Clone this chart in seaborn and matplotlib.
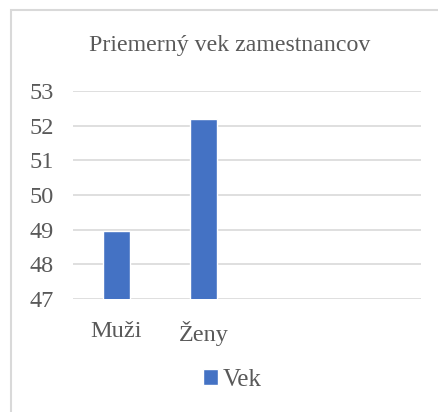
import pandas as pd
import matplotlib.pyplot as plt
import seaborn as sns
from matplotlib.patches import Rectangle

categories = ["Muži", "Ženy"]
vek = [48.95, 52.2]
series_name = "Vek"
title = "Priemerný vek zamestnancov"

sns.set_style("white")
plt.rcParams["font.family"] = ["Liberation Serif", "DejaVu Serif"]

TEXT = "#595959"
GRID = "#D9D9D9"
BAR = "#4472C4"

fig = plt.figure(figsize=(4.39, 4.12), dpi=100)
fig.patches.append(Rectangle((11 / 439, -0.1), 1.2, 1 - 10 / 412 + 0.1, transform=fig.transFigure,
                             fill=False, edgecolor=GRID, linewidth=1.5))
ax = fig.add_axes([73 / 439, 1 - 299 / 412, 348 / 439, 208 / 412])

df = pd.DataFrame({"Kategória": categories, series_name: vek})
sns.barplot(data=df, x="Kategória", y=series_name, color=BAR, width=0.31,
            saturation=1, label=series_name, ax=ax)

ax.set_xlim(-0.5, 3.5)
ax.set_ylim(47, 53)
ax.set_yticks(range(47, 54))
ax.yaxis.grid(True, color=GRID, linewidth=1.2)
ax.set_axisbelow(True)
for s in ax.spines.values():
    s.set_visible(False)
ax.set_xlabel("")
ax.set_ylabel("")
ax.tick_params(axis="both", length=0, colors=TEXT, labelsize=17.5)
ax.tick_params(axis="y", pad=14)
ax.tick_params(axis="x", pad=16)

fig.text(230 / 439, 1 - 46 / 412, title, ha="center", va="center", fontsize=17.2, color=TEXT)

leg = ax.legend(loc="center", bbox_to_anchor=(232 / 439, 1 - 380 / 412), bbox_transform=fig.transFigure,
                frameon=False, fontsize=18, handlelength=0.6, handleheight=0.6, handletextpad=0.2)
for t in leg.get_texts():
    t.set_color(TEXT)

fig.savefig("out.png", dpi=100)
